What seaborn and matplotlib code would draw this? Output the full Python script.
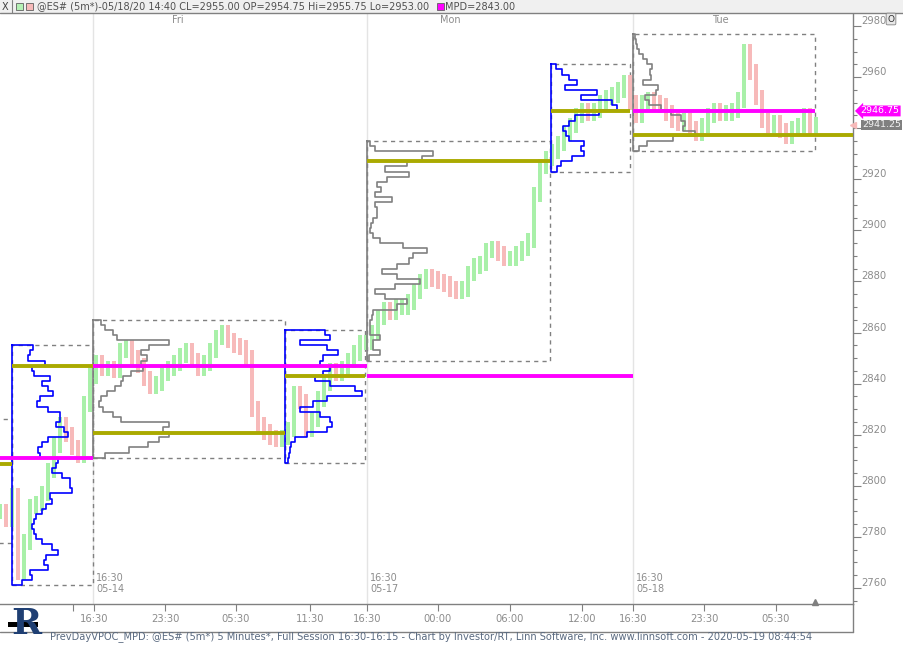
import numpy as np
import matplotlib
matplotlib.use("Agg")
import matplotlib.pyplot as plt
import matplotlib.transforms as mtransforms
from matplotlib.patches import Rectangle
from matplotlib.lines import Line2D
import seaborn as sns

# ES 5-minute closes, one reading every 6 bars (30 min), bar 0 = left edge of chart
closes = [2790, 2787, 2796, 2766, 2778, 2792, 2793, 2797, 2806, 2816,
          2824, 2820, 2815, 2812, 2832, 2843, 2848, 2846, 2846, 2845,
          2853, 2854, 2850, 2847, 2842, 2839, 2840, 2844, 2846, 2848,
          2851, 2853, 2849, 2846, 2848, 2853, 2858, 2860, 2857, 2855,
          2854, 2850, 2830, 2824, 2821, 2819, 2818, 2819, 2822, 2836,
          2833, 2822, 2826, 2834, 2840, 2845, 2844, 2846, 2849, 2852,
          2856, 2856, 2860, 2866, 2869, 2868, 2870, 2870, 2872, 2876,
          2880, 2882, 2881, 2880, 2879, 2877, 2876, 2877, 2883, 2886,
          2887, 2892, 2893, 2891, 2889, 2889, 2891, 2893, 2896, 2914,
          2925, 2928, 2931, 2934, 2938, 2941, 2945, 2947, 2946, 2947,
          2950, 2952, 2953, 2955, 2958, 2950, 2945, 2950, 2951, 2950,
          2949, 2946, 2943, 2942, 2943, 2940, 2938, 2941, 2945, 2947,
          2946, 2946, 2947, 2951, 2970, 2962, 2952, 2943, 2941, 2942,
          2939, 2937, 2940, 2941, 2945, 2940, 2941.25]
bar_step = 6

# volume profiles, 2-point price buckets from the top of each session down
vol_rth_0514 = [21, 18, 16, 33, 20, 22, 38, 30, 36, 41, 28, 25, 36, 48, 48, 44,
                52, 56, 36, 30, 26, 28, 46, 44, 40, 50, 58, 58, 60, 38, 40, 34,
                30, 24, 22, 20, 22, 24, 30, 40, 46, 34, 32, 36, 18, 20, 10]
vol_eth_0515 = [8, 12, 20, 24, 76, 56, 48, 54, 48, 50, 38, 30, 28, 22, 14, 8,
                6, 10, 20, 28, 76, 70, 76, 66, 55, 36, 12]
vol_rth_0515 = [40, 45, 15, 42, 53, 38, 35, 45, 38, 30, 45, 70, 77, 42, 28, 15,
                35, 45, 47, 42, 22, 10, 6, 5, 4, 3]
vol_eth_0518 = [3, 8, 66, 55, 40, 18, 42, 20, 10, 14, 8, 25, 8, 10, 10, 6,
                4, 3, 6, 13, 36, 60, 46, 42, 30, 15, 30, 53, 28, 8, 18, 40,
                30, 6, 5, 3, 3, 3, 13, 6, 6, 13, 2]
vol_rth_0518 = [5, 11, 18, 26, 14, 46, 30, 61, 66, 48, 24, 18, 12, 15, 18, 33,
                30, 33, 21, 10, 6]
vol_eth_0519 = [2, 3, 4, 6, 10, 14, 19, 17, 18, 10, 25, 23, 12, 16, 28, 38,
                48, 52, 50, 62, 40, 14, 6]

profiles = [vol_rth_0514, vol_eth_0515, vol_rth_0515, vol_eth_0518, vol_rth_0518, vol_eth_0519]
profile_top = [2854, 2864, 2860, 2934, 2964, 2976]
profile_kind = ["RTH", "ETH", "RTH", "ETH", "RTH", "ETH"]
profile_start = [12, 93, 285, 367, 551, 633]
profile_end = [93, 285, 365, 550, 630, 815]
vpoc = [2846.75, 2820.5, 2843.0, 2927.0, 2946.75, 2937.25]

# prior RTH VPOC carried through each full session
prev_vpoc = [2811.0, 2846.75, 2843.0, 2946.75]
full_start = [-100, 93, 367, 633]
full_end = [93, 367, 633, 815]

time_ticks = [94, 165, 236, 310, 367, 438, 510, 582, 633, 704, 776]
time_labels = ["16:30", "23:30", "05:30", "11:30", "16:30", "00:00",
               "06:00", "12:00", "16:30", "23:30", "05:30"]
day_names = ["Fri", "Mon", "Tue"]
day_dates = ["05-14", "05-17", "05-18"]
session_lines = [93, 367, 633]

UP = "#a9f0a9"
DOWN = "#f7baba"
OLIVE = "#aaaa00"
MAGENTA = "#ff00ff"
GRAY = "#808080"
TXT = "#8c8c8c"

sns.set_style("white")
plt.rcParams["font.family"] = ["DejaVu Sans"]

W, H = 904, 647
fig = plt.figure(figsize=(W / 100, H / 100), dpi=100)
ax = fig.add_axes([0, 43 / H, 853 / W, 591 / H])
ymin, ymax = 2753.7, 2985.1
xmax = 853

# session separators
for xs in session_lines:
    ax.axvline(xs, color="#e4e4e4", lw=1, zorder=0)

# previous partial session box (profile off chart)
ax.add_patch(Rectangle((-100, 2777.5), 112, 48.5, fill=False, ls=(0, (3, 3)),
                       ec=GRAY, lw=1, zorder=1))
ax.plot([0, 12], [2808.5, 2808.5], color=OLIVE, lw=2.8, solid_capstyle="butt", zorder=5)

# price bars
c = np.array(closes, dtype=float)
xb = np.arange(len(c)) * bar_step
prev = np.concatenate([[c[0]], c[:-1]])
lo = np.minimum(prev, c) - 3
hi = np.maximum(prev, c) + 3
cols = [UP if a >= b else DOWN for a, b in zip(c, prev)]
ax.bar(xb, hi - lo, bottom=lo, width=4.6, color=cols, linewidth=0, zorder=2)

# volume profiles with session boxes
step = 2.0
for vols, top, kind, s0, s1 in zip(profiles, profile_top, profile_kind,
                                    profile_start, profile_end):
    levels = top - step * np.arange(len(vols))
    xs = [s0]
    ys = [top + step / 2]
    for p, v in zip(levels, vols):
        xs += [s0 + v, s0 + v]
        ys += [p + step / 2, p - step / 2]
    xs += [s0, s0]
    ys += [levels[-1] - step / 2, top + step / 2]
    col = "#0000ff" if kind == "RTH" else GRAY
    sns.lineplot(x=xs, y=ys, sort=False, estimator=None, color=col,
                 lw=1.2, ax=ax, zorder=3)
    low_p, high_p = levels[-1] - step / 2, top + step / 2
    ax.add_patch(Rectangle((s0, low_p), s1 - s0, high_p - low_p, fill=False,
                           ls=(0, (3, 3)), ec=GRAY, lw=1, zorder=1))

# VPOC lines
for i, (v, s0, s1) in enumerate(zip(vpoc, profile_start, profile_end)):
    end = xmax if i == len(vpoc) - 1 else s1
    ax.plot([s0, end], [v, v], color=OLIVE, lw=2.8, solid_capstyle="butt", zorder=5)
for v, s0, s1 in zip(prev_vpoc, full_start, full_end):
    ax.plot([max(s0, 0), s1], [v, v], color=MAGENTA, lw=2.8, solid_capstyle="butt", zorder=6)

ax.set_xlim(0, xmax)
ax.set_ylim(ymin, ymax)
ax.set_xlabel("")
ax.set_ylabel("")

# right price axis (2940 sits under the last-price flag)
yt = np.arange(2760, 2981, 20)
ax.yaxis.tick_right()
ax.set_yticks(yt)
ax.set_yticklabels(["" if v == 2940 else str(v) for v in yt])
ax.set_yticks(np.arange(2755, 2985, 5), minor=True)
ax.tick_params(axis="y", which="major", direction="out", length=5.5, width=0.8,
               colors=GRAY, labelcolor=TXT, labelsize=7.2, pad=0.5, right=True)
ax.tick_params(axis="y", which="minor", direction="out", length=3, width=0.8,
               colors=GRAY, right=True)
for t in ax.get_yticklabels():
    t.set_verticalalignment("bottom")

# time axis
ax.set_xticks(time_ticks)
ax.set_xticklabels(time_labels)
ax.set_xticks([73], minor=True)
ax.tick_params(axis="x", which="both", direction="out", length=5, width=0.8,
               colors=GRAY, labelcolor=TXT, labelsize=7.2, pad=2.5, bottom=True)

for side in ["top", "left"]:
    ax.spines[side].set_visible(False)
for side in ["right", "bottom"]:
    ax.spines[side].set_color(GRAY)
    ax.spines[side].set_linewidth(1)

# day names and session dates inside the chart
for d, xs in zip(day_names, [178, 450, 720]):
    ax.text(xs, 2982.5, d, color=TXT, fontsize=7, ha="center", va="center")
for d, xs in zip(day_dates, session_lines):
    ax.text(xs + 3, 2757.5, "16:30\n" + d, color=TXT, fontsize=7,
            ha="left", va="bottom", linespacing=1.15)

# last-bar marker
ax.plot([815], [ymin + 0.6], marker="^", color=GRAY, ms=4, zorder=6, clip_on=False)

# price flags on the right axis
blend = mtransforms.blended_transform_factory(ax.transAxes, ax.transData)
ax.text(1.009, 2946.75, "2946.75", transform=blend, color="white", fontsize=6.8,
        va="center", ha="left", zorder=8,
        bbox=dict(boxstyle="larrow,pad=0.1", fc=MAGENTA, ec="none"))
ax.text(1.011, 2941.25, "2941.25", transform=blend, color="#f2f2f2", fontsize=6.8,
        va="center", ha="left", zorder=8,
        bbox=dict(boxstyle="square,pad=0.1", fc=GRAY, ec="none"))
ax.plot([1.0], [2941.25], marker="<", color=DOWN, ms=4.5, transform=blend,
        clip_on=False, zorder=8)

# header bar
fig.patches.append(Rectangle((0, 1 - 13 / H), 1, 13 / H, transform=fig.transFigure,
                             fc="#f0f0f0", ec="none"))
fig.lines.append(Line2D([0, 1], [1 - 13 / H, 1 - 13 / H], transform=fig.transFigure,
                        color=GRAY, lw=1))
fig.lines.append(Line2D([12 / W, 12 / W], [1 - 13 / H, 1], transform=fig.transFigure,
                        color=GRAY, lw=0.8))
hy = 1 - 6.5 / H
fig.text(2 / W, hy, "X", fontsize=7, color="#404040", va="center")
fig.patches.append(Rectangle((16 / W, 1 - 10 / H), 7 / W, 7 / H, transform=fig.transFigure,
                             fc="#b4f0b4", ec="#606060", lw=0.6))
fig.patches.append(Rectangle((26 / W, 1 - 10 / H), 7 / W, 7 / H, transform=fig.transFigure,
                             fc="#f7baba", ec="#606060", lw=0.6))
fig.text(37 / W, hy, "@ES# (5m*)-05/18/20 14:40 CL=2955.00 OP=2954.75 Hi=2955.75 Lo=2953.00",
         fontsize=7.0, color="#505050", va="center")
fig.patches.append(Rectangle((437 / W, 1 - 10 / H), 7 / W, 7 / H, transform=fig.transFigure,
                             fc=MAGENTA, ec="#606060", lw=0.6))
fig.text(445 / W, hy, "MPD=2843.00", fontsize=7.0, color="#505050", va="center")
fig.text(891 / W, 1 - 19 / H, "O", fontsize=6.5, color="#303030", ha="center", va="center",
         bbox=dict(boxstyle="round,pad=0.15", fc="#e8e8e8", ec=GRAY, lw=0.6))

# bottom strip border and footer
fig.lines.append(Line2D([0, 853 / W], [1 - 632 / H, 1 - 632 / H], transform=fig.transFigure,
                        color=GRAY, lw=1))
fig.lines.append(Line2D([853 / W, 853 / W], [1 - 632 / H, 43 / H], transform=fig.transFigure,
                        color=GRAY, lw=1))
fig.text(50 / W, 1 - 637 / H, "PrevDayVPOC_MPD: @ES# (5m*) 5 Minutes*, Full Session 16:30-16:15 - "
         "Chart by Investor/RT, Linn Software, Inc. www.linnsoft.com - 2020-05-19 08:44:54",
         fontsize=7.1, color="#5a6a80", va="center")
fig.text(11 / W, 1 - 624 / H, "R", fontsize=26, fontweight="bold", family="DejaVu Serif",
         color="#1f3f73", va="center", ha="left")
fig.patches.append(Rectangle((8 / W, 1 - 627 / H), 30 / W, 5 / H, transform=fig.transFigure,
                             fc="black", ec="none"))

fig.savefig("out.png", dpi=100)
